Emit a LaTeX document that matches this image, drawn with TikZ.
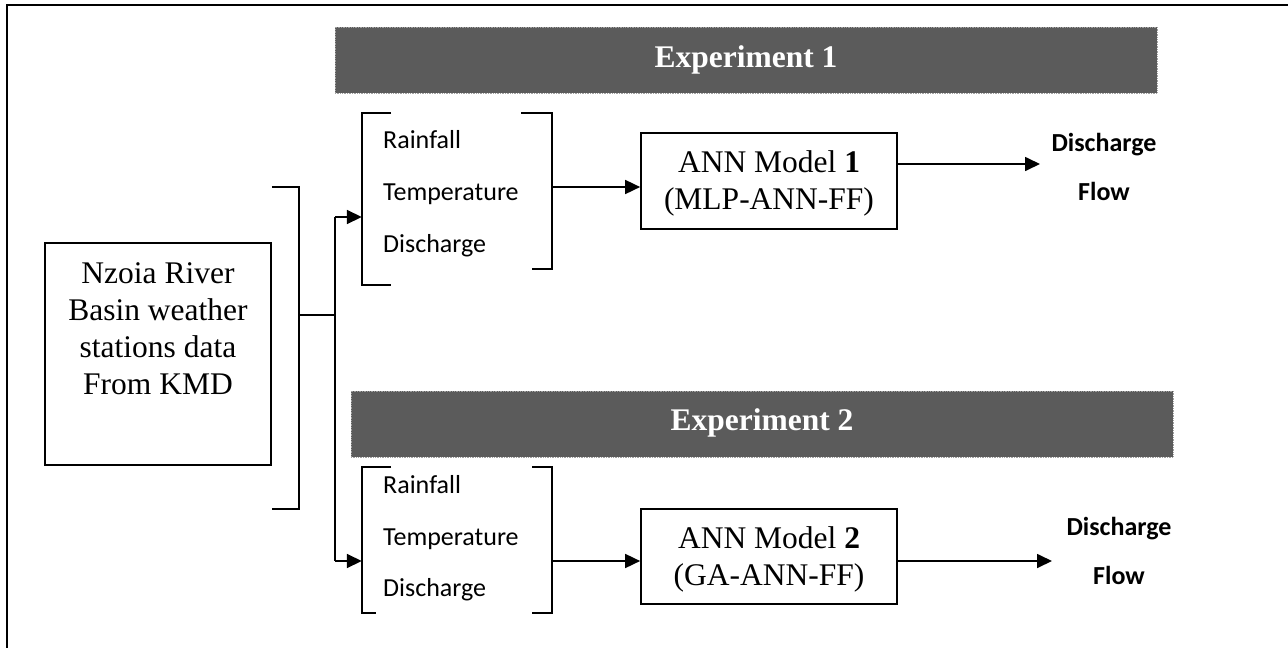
\documentclass[tikz,border=0pt]{standalone}
\usepackage{fontspec}
\setmainfont{Liberation Serif}
\newfontfamily\carlito{Carlito}
\usetikzlibrary{arrows.meta}
\definecolor{barfill}{HTML}{5B5B5B}
\definecolor{bardot}{HTML}{A0A0A0}

\begin{document}
\begin{tikzpicture}[x=1pt,y=-1pt,
  line/.style={line width=1.7pt},
  arr/.style={line width=1.7pt,-{Triangle[length=15pt,width=14pt]}},
  expbar/.style={rectangle,fill=barfill,draw=bardot,densely dotted,line width=0.7pt,inner sep=0pt},
  exptext/.style={inner sep=0pt,anchor=base,text=white,font=\fontsize{31.5}{37}\selectfont\bfseries},
  boxed/.style={rectangle,draw,line width=1.7pt,inner sep=0pt},
  serif/.style={inner sep=0pt,anchor=base,font=\fontsize{31.5}{37}\selectfont},
  varname/.style={inner sep=0pt,anchor=base west,font=\carlito\fontsize{26}{30}\selectfont},
  outname/.style={inner sep=0pt,anchor=base,font=\carlito\fontsize{26}{30}\selectfont\bfseries},
  group/.style={rectangle,inner sep=0pt}
]
\useasboundingbox (0,0) rectangle (1288,648);
\fill[white] (0,0) rectangle (1288,648);

% outer frame (runs past the page on the right and bottom)
\draw[line width=2pt] (6.5,648) -- (6.5,4.5) -- (1288,4.5);

% experiment headers
\node[expbar,minimum width=822pt,minimum height=66pt] (exp1) at (746,60) {};
\node[exptext] (exp1t) at (746,67) {Experiment 1};
\node[expbar,minimum width=822pt,minimum height=66pt] (exp2) at (762,424) {};
\node[exptext] (exp2t) at (762,430) {Experiment 2};

% data source
\node[boxed,minimum width=226pt,minimum height=222pt] (src) at (158,354) {};
\node[serif] (src1) at (158,283) {Nzoia River};
\node[serif] (src2) at (158,320) {Basin weather};
\node[serif] (src3) at (158,357) {stations data};
\node[serif] (src4) at (158,394) {From KMD};

% gathering bracket and split
\draw[line] (src.north east |- 0,187) -- (299,187) -- (299,509) -- (src.east |- 0,509);
\coordinate (split) at (299,315);
\coordinate (fork) at (335,315);
\coordinate (fork1) at (335,217);
\coordinate (fork2) at (335,561);
\draw[line] (split) -- (fork);
\draw[line] (fork1) -- (fork2);

% input variables, experiment 1
\node[group,minimum width=190pt,minimum height=172pt] (in1) at (457,199) {};
\draw[line] (391,113) -- (362,113) -- (362,285) -- (391,285);
\draw[line] (521,113) -- (552,113) -- (552,269) -- (532,269);
\node[varname] (r1) at (383,148) {Rainfall};
\node[varname] (t1) at (383,200) {Temperature};
\node[varname] (d1) at (383,252) {Discharge};

% input variables, experiment 2
\node[group,minimum width=190pt,minimum height=146pt] (in2) at (457,540) {};
\draw[line] (391,467) -- (362,467) -- (362,613) -- (376,613);
\draw[line] (532,467) -- (552,467) -- (552,613) -- (532,613);
\node[varname] (r2) at (383,493) {Rainfall};
\node[varname] (t2) at (383,545) {Temperature};
\node[varname] (d2) at (383,596) {Discharge};

\draw[arr] (fork1) -- (in1.west |- fork1);
\draw[arr] (fork2) -- (in2.west |- fork2);

% models
\node[boxed,minimum width=256pt,minimum height=96pt] (ann1) at (769,181) {};
\node[serif] (ann1a) at (769,172) {ANN Model \textbf{1}};
\node[serif] (ann1b) at (769,209) {(MLP-ANN-FF)};
\node[boxed,minimum width=256pt,minimum height=95pt] (ann2) at (769,556.5) {};
\node[serif] (ann2a) at (769,548) {ANN Model \textbf{2}};
\node[serif] (ann2b) at (769,585) {(GA-ANN-FF)};

\draw[arr] (in1.east |- 0,187) -- (ann1.west |- 0,187);
\draw[arr] (in2.east |- 0,561) -- (ann2.west |- 0,561);

% outputs
\coordinate (o1) at (1040,164);
\coordinate (o2) at (1052,561);
\draw[arr] (ann1.east |- o1) -- (o1);
\draw[arr] (ann2.east |- o2) -- (o2);
\node[outname] (out1a) at (1104,151) {Discharge};
\node[outname] (out1b) at (1104,200) {Flow};
\node[outname] (out2a) at (1119,535) {Discharge};
\node[outname] (out2b) at (1119,584) {Flow};
\end{tikzpicture}
\end{document}
